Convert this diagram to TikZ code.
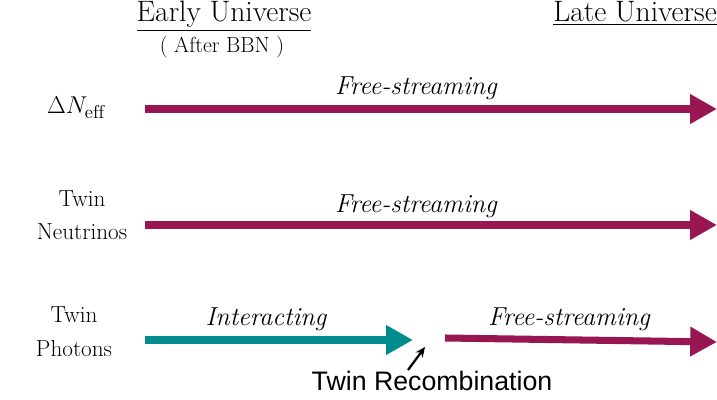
\documentclass[tikz,border=0pt]{standalone}
\usepackage{fontspec}
\newfontfamily\recfont{Liberation Sans}
\usetikzlibrary{arrows.meta}
\definecolor{freecol}{RGB}{152,22,82}
\definecolor{intcol}{RGB}{0,140,140}

\begin{document}
\begin{tikzpicture}[x=0.025cm, y=-0.025cm]
      \tikzset{every node/.style={inner sep=0pt, anchor=base}}
      \tikzset{head/.style={font=\fontsize{21}{25}\selectfont}}
      \tikzset{side/.style={font=\fontsize{16.5}{23.5}\selectfont, align=center}}
      \tikzset{phase/.style={font=\fontsize{18.5}{22}\selectfont\itshape}}
      \tikzset{flow/.style={line width=5pt, -{Triangle[length=0.67cm, width=0.7cm]}}}
      \path[use as bounding box] (0,0) rectangle (717,400);

      % headings
      \node[head] (early) at (224,22) {\underline{Early Universe}};
      \node[font=\fontsize{15.5}{18}\selectfont] (bbn) at (222,53) {( After BBN )};
      \node[head] (late) at (635,22) {\underline{Late Universe}};

      % row labels
      \node[font=\fontsize{19}{22}\selectfont] (neff) at (76,114) {$\Delta N_{\mathrm{eff}}$};
      \node[side] (nu) at (82,240) {Twin\\Neutrinos};
      \node[side] (gam) at (74,356) {Twin\\Photons};

      % end points
      \coordinate (a1) at (145,109);
      \coordinate (b1) at (717,109);
      \coordinate (a2) at (145,225);
      \coordinate (b2) at (717,225);
      \coordinate (a3) at (145,340);
      \coordinate (b3) at (413,340);
      \coordinate (c3) at (445,338);
      \coordinate (d3) at (717,342);

      \draw[flow, freecol] (a1) -- (b1);
      \draw[flow, freecol] (a2) -- (b2);
      \draw[flow, intcol] (a3) -- (b3);
      \draw[flow, freecol] (c3) -- (d3);

      \node[phase] (fs1) at (416,95) {Free-streaming};
      \node[phase] (fs2) at (416,212) {Free-streaming};
      \node[phase] (int) at (266,325) {Interacting};
      \node[phase] (fs3) at (569,325) {Free-streaming};

      % recombination
      \node[font=\fontsize{19}{22}\selectfont\recfont] (rec) at (432,390) {Twin Recombination};
      \coordinate (r0) at (408,370);
      \coordinate (r1) at (425,347);
      \draw[line width=1.6pt, -{Stealth[length=0.25cm, width=0.22cm]}] (r0) -- (r1);
    \end{tikzpicture}
\end{document}
